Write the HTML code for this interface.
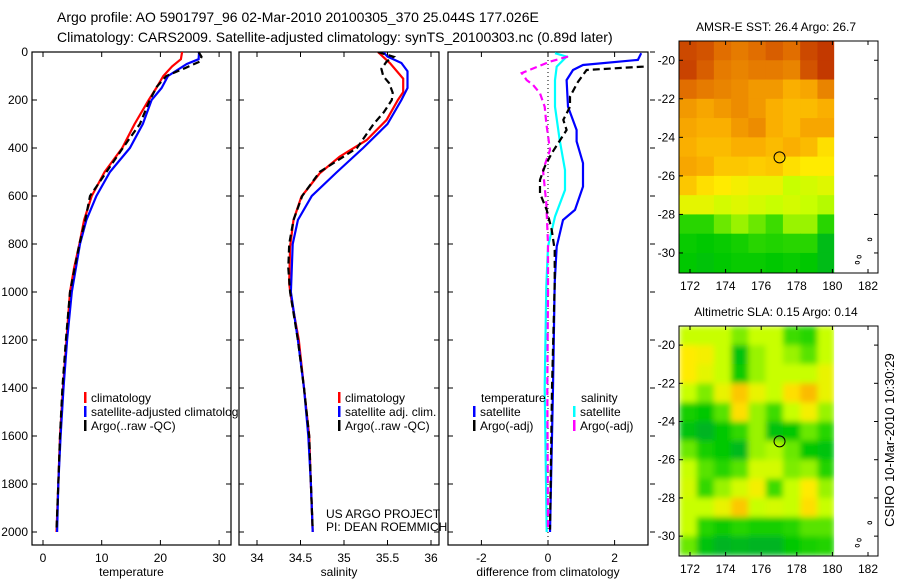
<!DOCTYPE html>
<html><head><meta charset="utf-8">
<style>
html,body{margin:0;padding:0;background:#fff;}
svg{display:block;font-family:"Liberation Sans",sans-serif;}
text{fill:#000;}
</style></head>
<body>
<svg id="fig" width="900" height="580" viewBox="0 0 900 580" xmlns="http://www.w3.org/2000/svg">
<defs>
<clipPath id="c1"><rect x="32" y="52" width="199" height="493"/></clipPath>
<clipPath id="c2"><rect x="239" y="52" width="200" height="493"/></clipPath>
<clipPath id="c3"><rect x="448" y="52" width="200" height="493"/></clipPath>
<clipPath id="cleg1"><rect x="32" y="380" width="207" height="60"/></clipPath>
<clipPath id="cm1"><rect x="679" y="41" width="199" height="232"/></clipPath>
<clipPath id="cm2"><rect x="679" y="326" width="199" height="230"/></clipPath>
<filter id="blur" x="-5%" y="-5%" width="110%" height="110%"><feGaussianBlur stdDeviation="3" edgeMode="duplicate"/></filter>
</defs>
<text x="57" y="22" font-size="14">Argo profile: AO 5901797_96 02-Mar-2010 20100305_370 25.044S 177.026E</text>
<text x="57" y="42" font-size="14">Climatology: CARS2009. Satellite-adjusted climatology: synTS_20100303.nc (0.89d later)</text>
<g id="g1"></g>
<g id="g2"></g>
<g id="g3"></g>
<g id="gm1"></g>
<g id="gm2"></g>
<text transform="translate(894,440) rotate(-90)" text-anchor="middle" font-size="13">CSIRO 10-Mar-2010 10:30:29</text>
</svg>
<script>
// ---- data ----
const depthTicks=[0,200,400,600,800,1000,1200,1400,1600,1800,2000];
const tempTicks=[0,10,20,30];
const salTicks=[34,34.5,35,35.5,36];
const diffTicks=[-2,0,2];
const tClimDepth=[0,30,60,100,150,200,300,400,500,600,700,800,900,1000,1200,1400,1600,1800,2000];
const tClim=[23.7,23.5,22,20.5,19.3,18,15.6,13.5,10.5,8.3,7,6.2,5.3,4.6,4.0,3.4,2.9,2.6,2.3];
const tSatDepth=[0,30,50,100,150,200,300,400,500,600,700,800,1000,1200,1400,1600,1800,2000];
const tSat=[26.6,26.5,24.5,21.3,20.2,18.5,17,14.8,11.4,9.1,7.4,6.3,4.9,4.1,3.5,3.0,2.6,2.4];
const tArgoDepth=[0,20,40,67,100,144,200,300,400,500,600,700,800,1000,1200,1400,1600,1800,1990];
const tArgo=[26.5,27,26.7,24.2,21,19.4,18.2,16.5,13.6,10.8,8,7.2,6.2,4.6,3.9,3.3,2.9,2.6,2.3];
const sClimDepth=[0,47,111,167,200,283,367,436,506,603,700,811,964,1019,1200,1400,1600,1800,2000];
const sClim=[35.39,35.53,35.68,35.68,35.62,35.49,35.26,34.95,34.72,34.51,34.42,34.38,34.37,34.39,34.48,34.54,34.6,34.62,34.64];
const sSatDepth=[0,19,46,80,150,200,300,400,500,600,700,800,1000,1200,1400,1600,1800,2000];
const sSat=[35.45,35.5,35.66,35.73,35.73,35.66,35.5,35.22,34.92,34.63,34.47,34.41,34.39,34.47,34.54,34.59,34.62,34.64];
const sArgoDepth=[0,20,40,70,100,130,170,200,250,300,400,500,600,700,800,900,1000,1200,1400,1600,1800,1990];
const sArgo=[35.39,35.57,35.49,35.43,35.45,35.52,35.56,35.55,35.46,35.34,35.15,34.72,34.52,34.42,34.37,34.36,34.38,34.47,34.54,34.6,34.62,34.64];
const dTSatDepth=[5,33,54,75,117,228,325,372,463,561,658,700,811,963,1400,2000];
const dTSat=[2.8,2.7,1.05,0.75,0.56,0.6,0.86,0.86,1.05,1.05,0.81,0.45,0.26,0.2,0.15,0.06];
const dTArgoDepth=[55,61,75,124,186,228,283,325,422,478,533,589,658,741,825,963,1400,1990];
const dTArgo=[3.2,2.86,1.16,0.9,0.66,0.66,0.46,0.56,0.11,-0.1,-0.24,-0.24,-0.04,0.11,0.2,0.2,0.12,0.06];
const dSSatDepth=[5,19,61,117,228,367,492,575,686,811,977,1400,2000];
const dSSat=[0.21,0.56,0.26,0.21,0.21,0.35,0.51,0.51,0.21,0.0,-0.05,-0.1,-0.04];
const dSArgoDepth=[19,40,88,117,137,172,228,297,408,492,631,800,1000,1400,1990];
const dSArgo=[0.6,0.06,-0.79,-0.64,-0.45,-0.24,-0.1,-0.05,0.06,-0.15,-0.05,0.0,0.0,-0.02,0.0];
const mapLonTicks=[172,174,176,178,180,182];
const mapLatTicks=[-20,-22,-24,-26,-28,-30];
const gridLons=[171.4,172.37,173.34,174.31,175.28,176.25,177.22,178.19,179.16];
const gridLats=[-19,-20,-21,-22,-23,-24,-25,-26,-27,-28,-29,-30];
const sst=[
[0.92,0.9,0.85,0.82,0.85,0.88,0.85,0.92,0.95],
[0.93,0.88,0.82,0.8,0.82,0.82,0.8,0.9,0.95],
[0.85,0.82,0.8,0.78,0.75,0.75,0.7,0.72,0.8],
[0.75,0.72,0.75,0.78,0.75,0.7,0.68,0.68,0.7],
[0.72,0.7,0.7,0.75,0.78,0.7,0.68,0.72,0.72],
[0.7,0.68,0.68,0.7,0.7,0.68,0.7,0.68,0.62],
[0.72,0.7,0.66,0.66,0.65,0.66,0.62,0.6,0.6],
[0.66,0.62,0.6,0.58,0.56,0.56,0.5,0.52,0.54],
[0.55,0.55,0.52,0.54,0.52,0.5,0.52,0.5,0.48],
[0.3,0.3,0.4,0.45,0.4,0.35,0.45,0.45,0.3],
[0.22,0.2,0.22,0.25,0.3,0.28,0.3,0.3,0.15],
[0.2,0.18,0.2,0.22,0.22,0.2,0.22,0.2,0.15]];
const sla=[
[0.5,0.5,0.5,0.42,0.5,0.5,0.35,0.3,0.5],
[0.6,0.58,0.5,0.18,0.45,0.5,0.45,0.38,0.5],
[0.6,0.55,0.5,0.22,0.45,0.5,0.5,0.5,0.56],
[0.5,0.42,0.56,0.66,0.56,0.5,0.62,0.68,0.56],
[0.25,0.2,0.38,0.62,0.45,0.35,0.5,0.58,0.45],
[0.18,0.12,0.2,0.32,0.45,0.18,0.2,0.4,0.3],
[0.4,0.25,0.2,0.14,0.45,0.48,0.4,0.2,0.18],
[0.5,0.38,0.3,0.38,0.52,0.52,0.42,0.45,0.28],
[0.52,0.32,0.45,0.52,0.58,0.35,0.5,0.6,0.45],
[0.5,0.5,0.56,0.66,0.5,0.52,0.5,0.62,0.5],
[0.5,0.3,0.22,0.3,0.25,0.25,0.3,0.38,0.38],
[0.4,0.18,0.12,0.14,0.12,0.12,0.2,0.25,0.28]];
const argoLon=177.03, argoLat=-25.04;

// ---- helpers ----
const NS="http://www.w3.org/2000/svg";
function mk(parent,tag,attrs,txt){const e=document.createElementNS(NS,tag);for(const k in attrs)e.setAttribute(k,attrs[k]);if(txt!==undefined)e.textContent=txt;parent.appendChild(e);return e;}
const yD=d=>52+0.24*d;
function panel(g,x0,x1,xs,ticks,fmt,xlabel,xlabelName,rightTicks){
  const r=mk(g,'rect',{x:x0,y:52,width:x1-x0,height:493,fill:'#fff',stroke:'#000','stroke-width':1.2});
  
  
  depthTicks.forEach(d=>{
    const y=yD(d);
    if(!rightTicks){mk(g,'line',{x1:x0,x2:x0+5,y1:y,y2:y,stroke:'#000'});mk(g,'line',{x1:x1,x2:x1-5,y1:y,y2:y,stroke:'#000'});}
    else{mk(g,'line',{x1:x0,x2:x0+5,y1:y,y2:y,stroke:'#000'});mk(g,'line',{x1:x1+2,x2:x1+7,y1:y,y2:y,stroke:'#000'});}
  });
  ticks.forEach(v=>{
    const x=xs(v);
    mk(g,'line',{x1:x,x2:x,y1:545,y2:540,stroke:'#000'});
    mk(g,'line',{x1:x,x2:x,y1:52,y2:57,stroke:'#000'});
    const t=mk(g,'text',{x:x,y:562,'text-anchor':'middle','font-size':12},fmt(v));
    
    
  });
  const xl=mk(g,'text',{x:(x0+x1)/2,y:576,'text-anchor':'middle','font-size':12},xlabel);
  
  
}
function line(g,clip,xs,vals,depths,color,dash,name){
  const pts=vals.map((v,i)=>xs(v).toFixed(1)+','+yD(depths[i]).toFixed(1)).join(' ');
  const p=mk(g,'polyline',{points:pts,fill:'none',stroke:color,'stroke-width':2.2,'clip-path':'url(#'+clip+')'});
  if(dash)p.setAttribute('stroke-dasharray',dash);
  
  
}
function legend(g,x,y,color,label,clip){
  mk(g,'rect',{x:x,y:y-10,width:2.5,height:11,fill:color});
  const t=mk(g,'text',{x:x+7,y:y,'font-size':12},label);
  if(clip)t.setAttribute('clip-path','url(#'+clip+')');
  
  
}

// ---- panel 1 temperature ----
const g1=document.getElementById('g1');
const xT=v=>43+5.87*v;
panel(g1,32,231,xT,tempTicks,v=>String(v),'temperature','x-axis-title-temperature',false);
depthTicks.forEach(d=>{const t=mk(g1,'text',{x:28,y:yD(d)+4,'text-anchor':'end','font-size':12},String(d));
  
  });
line(g1,'c1',xT,tClim,tClimDepth,'#ff0000',null,'temperature-climatology-line');
line(g1,'c1',xT,tSat,tSatDepth,'#0000ff',null,'temperature-satellite-line');
line(g1,'c1',xT,tArgo,tArgoDepth,'#000',"7,4",'temperature-argo-line');

// ---- panel 2 salinity ----
const g2=document.getElementById('g2');
const xS=v=>257+87*(v-34);
panel(g2,239,439,xS,salTicks,v=>String(v),'salinity','x-axis-title-salinity',false);
line(g2,'c2',xS,sClim,sClimDepth,'#ff0000',null,'salinity-climatology-line');
line(g2,'c2',xS,sSat,sSatDepth,'#0000ff',null,'salinity-satellite-line');
line(g2,'c2',xS,sArgo,sArgoDepth,'#000',"7,4",'salinity-argo-line');

legend(g1,84,402,'#ff0000','climatology','cleg1');
legend(g1,84,416,'#0000ff','satellite-adjusted climatology','cleg1');
legend(g1,84,430,'#000','Argo(..raw -QC)','cleg1');
legend(g2,338,402,'#ff0000','climatology');
legend(g2,338,416,'#0000ff','satellite adj. clim.');
legend(g2,338,430,'#000','Argo(..raw -QC)');
let t=mk(g2,'text',{x:326,y:518,'font-size':12},'US ARGO PROJECT');


t=mk(g2,'text',{x:326,y:531,'font-size':12},'PI: DEAN ROEMMICH');



// ---- panel 3 differences ----
const g3=document.getElementById('g3');
const xDf=v=>548+33.3*v;
panel(g3,448,648,xDf,diffTicks,v=>String(v),'difference from climatology','x-axis-title-difference',true);
mk(g3,'line',{x1:xDf(0),x2:xDf(0),y1:52,y2:545,stroke:'#000','stroke-dasharray':'1,3'});
line(g3,'c3',xDf,dSSat,dSSatDepth,'#00ffff',null,'salinity-satellite-diff-line');
line(g3,'c3',xDf,dSArgo,dSArgoDepth,'#ff00ff',"7,4",'salinity-argo-diff-line');
line(g3,'c3',xDf,dTSat,dTSatDepth,'#0000ff',null,'temperature-satellite-diff-line');
line(g3,'c3',xDf,dTArgo,dTArgoDepth,'#000',"7,4",'temperature-argo-diff-line');
t=mk(g3,'text',{x:481,y:402,'font-size':12},'temperature');


t=mk(g3,'text',{x:581,y:402,'font-size':12},'salinity');


legend(g3,473,416,'#0000ff','satellite');
legend(g3,473,430,'#000','Argo(-adj)');
legend(g3,573,416,'#00ffff','satellite');
legend(g3,573,430,'#ff00ff','Argo(-adj)');

// ---- maps ----
const stops=[[0,[0,150,90]],[0.2,[0,200,0]],[0.35,[60,220,0]],[0.5,[200,255,0]],[0.6,[255,235,0]],[0.7,[250,175,0]],[0.85,[225,110,0]],[1,[180,30,0]]];
function cmap(v){v=Math.max(0,Math.min(1,v));for(let i=1;i<stops.length;i++){if(v<=stops[i][0]){const a=stops[i-1],b=stops[i],f=(v-a[0])/(b[0]-a[0]);return 'rgb('+a[1].map((c,k)=>Math.round(c+f*(b[1][k]-c))).join(',')+')';}}return 'rgb(180,30,0)';}
function drawMap(g,top,bottom,grid,title,clip,smooth){
  const lon=v=>690+17.8*(v-172);
  const pxDeg=(bottom-top)/12.04;
  const lat=v=>top+(-19-v)*pxDeg;
  const cells=mk(g,'g',{'clip-path':'url(#'+clip+')'});
  const inner=mk(cells,'g',smooth?{filter:'url(#blur)'}:{});
  grid.forEach((row,i)=>row.forEach((v,j)=>{
    const x0=lon(gridLons[j]),x1=j+1<gridLons.length?lon(gridLons[j+1]):lon(180.1);
    const y0=lat(gridLats[i]),y1=lat(gridLats[i]-1);
    const r=mk(inner,'rect',{x:x0,y:y0,width:x1-x0+0.5,height:y1-y0+0.5,fill:cmap(v)});
    
    
  }));
  mk(cells,'rect',{x:lon(180.1),y:top,width:60,height:bottom-top,fill:'#fff'});
  const fr=mk(g,'rect',{x:679,y:top,width:199,height:bottom-top,fill:'none',stroke:'#000','stroke-width':1});
  
  
  mapLonTicks.forEach(v=>{const x=lon(v);
    mk(g,'line',{x1:x,x2:x,y1:bottom,y2:bottom-4,stroke:'#000'});
    mk(g,'line',{x1:x,x2:x,y1:top,y2:top+4,stroke:'#000'});
    const tt=mk(g,'text',{x:x,y:bottom+17,'text-anchor':'middle','font-size':12},String(v));
    
    });
  mapLatTicks.forEach(v=>{const y=lat(v);
    mk(g,'line',{x1:679,x2:683,y1:y,y2:y,stroke:'#000'});
    mk(g,'line',{x1:878,x2:874,y1:y,y2:y,stroke:'#000'});
    const tt=mk(g,'text',{x:675,y:y+4,'text-anchor':'end','font-size':12},String(v));
    
    });
  const tl=mk(g,'text',{x:776,y:top-10,'text-anchor':'middle','font-size':12},title);
  
  
  const c=mk(g,'circle',{cx:lon(argoLon),cy:lat(argoLat),r:5.5,fill:'none',stroke:'#000','stroke-width':1});
  
  
  [[182.1,-29.3],[181.5,-30.2],[181.4,-30.5]].forEach(p=>mk(g,'ellipse',{cx:lon(p[0]),cy:lat(p[1]),rx:2,ry:1.3,fill:'none',stroke:'#000','stroke-width':0.8}));
}
drawMap(document.getElementById('gm1'),41,273,sst,'AMSR-E SST: 26.4 Argo: 26.7','cm1',false);
drawMap(document.getElementById('gm2'),326,556,sla,'Altimetric SLA: 0.15 Argo: 0.14','cm2',true);
</script>
</body></html>
